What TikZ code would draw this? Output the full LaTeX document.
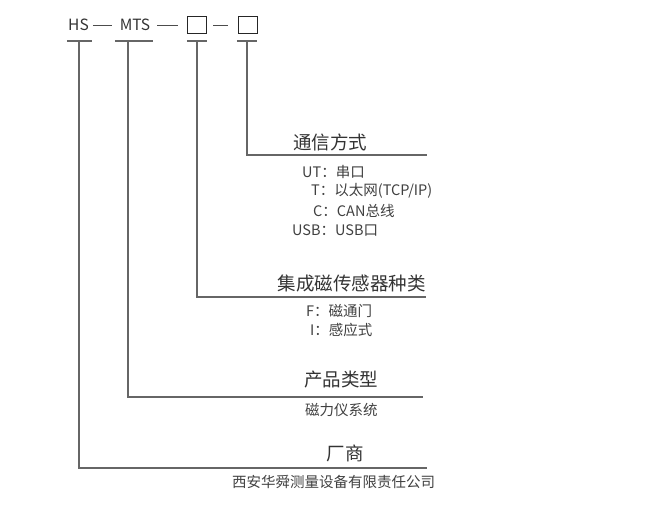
\documentclass[tikz,border=0pt]{standalone}
\usepackage{fontspec}
\setmainfont{Noto Sans CJK SC}
\usetikzlibrary{positioning}

\begin{document}
\begin{tikzpicture}[x=1pt,y=-1pt,
    code/.style={inner sep=0pt, font=\fontsize{15.5}{17}\selectfont, text=black!80},
    slot/.style={draw=black!85, line width=0.9pt, minimum width=19pt, minimum height=17pt, inner sep=0pt},
    bar/.style={minimum height=0pt, inner sep=0pt},
    dashline/.style={draw=black!70, line width=0.9pt},
    link/.style={draw=black!60, line width=1.1pt},
    title/.style={inner sep=0pt, font=\fontsize{18.5}{20}\selectfont, text=black!80},
    item/.style={inner sep=0pt, anchor=west, font=\fontsize{14.5}{16}\selectfont, text=black!75}
]
    \useasboundingbox (0,0) rectangle (657,505);

    % code line
    \node[code] (hs) at (78.5,25) {HS};
    \node[code] (mts) at (135,25) {MTS};
    \node[slot] (boxa) at (196.5,25) {};
    \node[slot] (boxb) at (247.5,25) {};
    \draw[dashline, shorten <=4pt, shorten >=8pt] (hs.east) -- (mts.west);
    \draw[dashline, shorten <=7pt, shorten >=9pt] (mts.east) -- (boxa.west);
    \draw[dashline, shorten <=7pt, shorten >=10pt] (boxa.east) -- (boxb.west);

    \node[bar, minimum width=25pt] (hsbar) at (79.5,41) {};
    \node[bar, minimum width=38pt] (mtsbar) at (134,41) {};
    \node[bar, minimum width=20pt] (boxabar) at (197,41) {};
    \node[bar, minimum width=20pt] (boxbbar) at (247,41) {};
    \foreach \b in {hsbar,mtsbar,boxabar,boxbbar}
        \draw[link] (\b.west) -- (\b.east);

    % legend lines
    \coordinate (commEnd) at (427,155);
    \coordinate (sensEnd) at (426,297);
    \coordinate (typeEnd) at (423,397);
    \coordinate (makerEnd) at (427,468);
    \draw[link] (boxbbar.center) |- (commEnd);
    \draw[link] (boxabar.center) |- (sensEnd);
    \draw[link] ([xshift=-6pt]mtsbar.center) |- (typeEnd);
    \draw[link] ([xshift=-0.5pt]hsbar.center) |- (makerEnd);

    \node[title] (comm) at (330,142) {通信方式};
    \node[item] (ut) at (302,172) {UT：串口};
    \node[item] (tcp) at (311,191) {T：以太网(TCP/IP)};
    \node[item] (can) at (313,211) {C：CAN总线};
    \node[item] (usb) at (292,230) {USB：USB口};

    \node[title, anchor=east] (sens) at (426,284) {集成磁传感器种类};
    \node[item] (flux) at (306,311) {F：磁通门};
    \node[item] (ind) at (310,330) {I：感应式};

    \node[title] (ptype) at (341,380) {产品类型};
    \node[item] (mag) at (305,410) {磁力仪系统};

    \node[title] (maker) at (345,453) {厂商};
    \node[item] (corp) at (232,482) {西安华舜测量设备有限责任公司};
\end{tikzpicture}
\end{document}
